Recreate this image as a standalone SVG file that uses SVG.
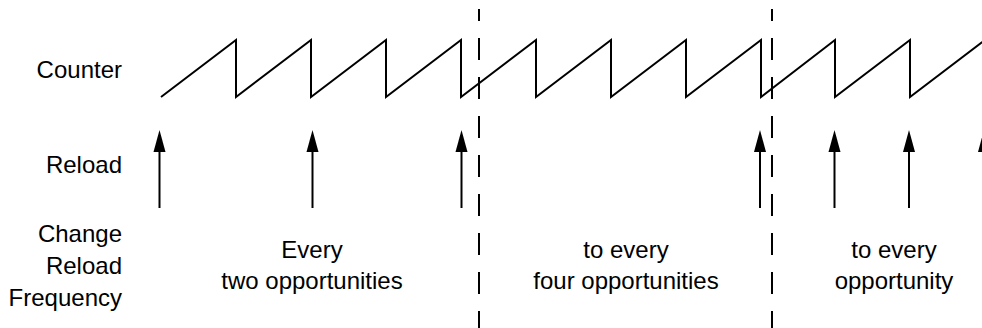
<svg xmlns="http://www.w3.org/2000/svg" width="982" height="328" viewBox="0 0 982 328">
<style>
  text { font-family: "Liberation Sans", Arial, Helvetica, sans-serif; font-size: 24px; fill: #000; }
  .r { text-anchor: end; }
  .m { text-anchor: middle; }
  .wave { fill: none; stroke: #000; stroke-width: 2; stroke-linejoin: miter; }
  .head { fill: #000; stroke: none; }
  .shaft { stroke: #000; stroke-width: 2; fill: none; }
  .dash { stroke: #000; stroke-width: 2; stroke-dasharray: 22 17; stroke-dashoffset: 10; fill: none; }
</style>
<rect width="982" height="328" fill="#fff"/>
<g id="labels">
  <text class="r" x="122" y="78">Counter</text>
  <text class="r" x="122" y="173">Reload</text>
  <text class="r" x="122" y="242">Change</text>
  <text class="r" x="122" y="274">Reload</text>
  <text class="r" x="122" y="306">Frequency</text>
</g>
<g id="phase1">
  <text class="m" x="312" y="258">Every</text>
  <text class="m" x="312" y="289">two opportunities</text>
</g>
<g id="phase2">
  <text class="m" x="626" y="258">to every</text>
  <text class="m" x="626" y="289">four opportunities</text>
</g>
<g id="phase3">
  <text class="m" x="894" y="258">to every</text>
  <text class="m" x="894" y="289">opportunity</text>
</g>
<g id="counter">
  <path class="wave" d="M161,97 L236,40 L236,97 L311,40 L311,97 L386,40 L386,97 L461,40 L461,97 L536,40 L536,97 L611,40 L611,97 L686,40 L686,97 L761,40 L761,97 L835,40 L835,97 L910,40 L910,97 L985,40"/>
</g>
<g id="connectors">
  <g id="reloads">
    <path class="head" d="M159.5,130 L165.5,152 L153.5,152 Z"/><line class="shaft" x1="159.5" y1="150" x2="159.5" y2="208"/>
    <path class="head" d="M312.5,130 L318.5,152 L306.5,152 Z"/><line class="shaft" x1="312.5" y1="150" x2="312.5" y2="208"/>
    <path class="head" d="M461.5,130 L467.5,152 L455.5,152 Z"/><line class="shaft" x1="461.5" y1="150" x2="461.5" y2="208"/>
    <path class="head" d="M760,130 L766,152 L754,152 Z"/><line class="shaft" x1="760" y1="150" x2="760" y2="208"/>
    <path class="head" d="M834.5,130 L840.5,152 L828.5,152 Z"/><line class="shaft" x1="834.5" y1="150" x2="834.5" y2="208"/>
    <path class="head" d="M909,130 L915,152 L903,152 Z"/><line class="shaft" x1="909" y1="150" x2="909" y2="208"/>
    <path class="head" d="M984,130 L990,152 L978,152 Z"/><line class="shaft" x1="984" y1="150" x2="984" y2="208"/>
  </g>
  <g id="boundaries">
    <line class="dash" x1="479" y1="9" x2="479" y2="340"/>
    <line class="dash" x1="772" y1="9" x2="772" y2="340"/>
  </g>
</g>
</svg>
